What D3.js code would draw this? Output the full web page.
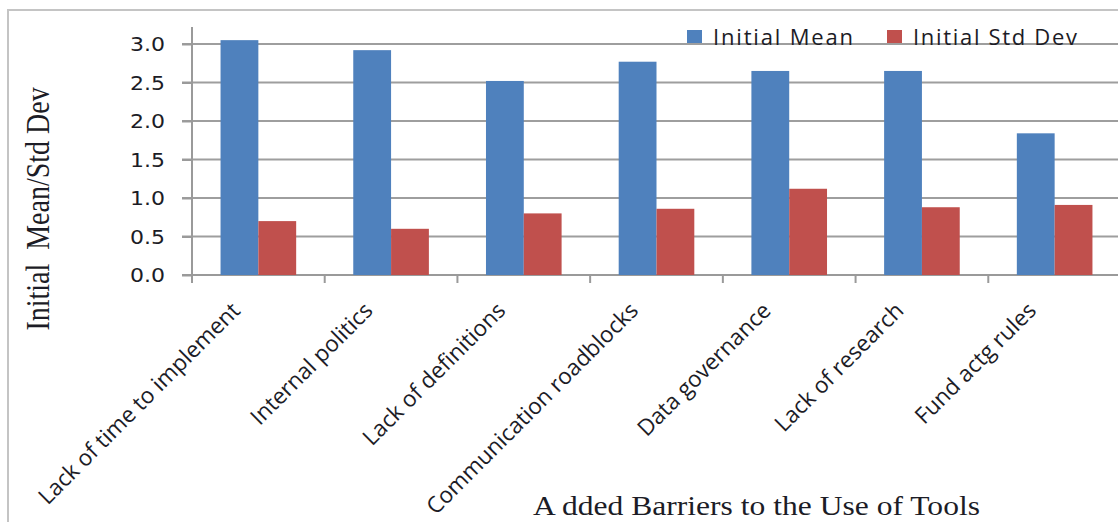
<!DOCTYPE html>
<html><head><meta charset="utf-8">
<script src="https://cdn.jsdelivr.net/npm/d3@7"></script>
<style>body{margin:0;background:#fff}svg{display:block}</style>
</head><body>
<svg id="c" width="1118" height="522"></svg>
<script>
const categories = ["Lack of time to implement","Internal politics","Lack of definitions","Communication roadblocks","Data governance","Lack of research","Fund actg rules"];
const seriesNames = ["Initial Mean","Initial Std Dev"];
const initialMean = [3.05, 2.92, 2.52, 2.77, 2.65, 2.65, 1.84];
const initialStdDev = [0.70, 0.60, 0.80, 0.86, 1.12, 0.88, 0.91];
const yTicks = [0, 0.5, 1.0, 1.5, 2.0, 2.5, 3.0];
const colors = ["#4F81BD", "#C0504D"];
const yTitle = "Initial\u00a0 Mean/Std Dev";
const xTitle = "A dded Barriers to the Use of Tools";

(function () {
const svg = d3.select("#c");
const pLeft = 192, pRight = 1121, pTop = 44, pBottom = 275;
const x = d3.scaleBand().domain(categories).range([pLeft, pRight]).paddingInner(0).paddingOuter(0);
const x1 = d3.scaleBand().domain(seriesNames).range([0, x.bandwidth()]).paddingInner(0).paddingOuter(0.755);
const y = d3.scaleLinear().domain([0, 3]).range([pBottom, pTop]);
const textCol = "#1c1c26";

// frame
svg.append("rect").attr("x", 8).attr("y", 10).attr("width", 1200).attr("height", 600)
  .attr("fill", "none").attr("stroke", "#c4c4c4").attr("stroke-width", 2);

// gridlines
svg.append("g").selectAll("line").data(yTicks.filter(d => d > 0)).join("line")
  .attr("x1", pLeft - 10).attr("x2", 1118).attr("y1", d => y(d)).attr("y2", d => y(d))
  .attr("stroke", "#9e9e9e").attr("stroke-width", 2);

// y axis
const yAxis = svg.append("g").attr("transform", `translate(${pLeft},0)`)
  .call(d3.axisLeft(y).tickValues(yTicks).tickFormat(d3.format(".1f")).tickSize(10).tickPadding(17));
yAxis.select(".domain").remove();
yAxis.selectAll(".tick line").attr("stroke", "#9a9a9a").attr("stroke-width", 2);
yAxis.selectAll(".tick text").attr("font-family", "DejaVu Sans").attr("font-size", 19)
  .attr("fill", textCol).attr("textLength", 35).attr("lengthAdjust", "spacingAndGlyphs").attr("dy", "0.36em");
svg.append("line").attr("x1", pLeft).attr("x2", pLeft).attr("y1", y(3.22)).attr("y2", pBottom + 8)
  .attr("stroke", "#9a9a9a").attr("stroke-width", 2);

// x axis
const xAxis = svg.append("g").attr("transform", `translate(0,${pBottom})`)
  .call(d3.axisBottom(x).tickSize(0).tickFormat(""));
xAxis.select(".domain").remove();
svg.append("line").attr("x1", pLeft - 10).attr("x2", 1118).attr("y1", pBottom).attr("y2", pBottom)
  .attr("stroke", "#9a9a9a").attr("stroke-width", 2);
svg.append("g").selectAll("line").data(categories.slice(1)).join("line")
  .attr("x1", d => x(d)).attr("x2", d => x(d)).attr("y1", pBottom).attr("y2", pBottom + 8)
  .attr("stroke", "#9a9a9a").attr("stroke-width", 2);

// bars
const data = categories.map((c, i) => ({c, vals: [initialMean[i], initialStdDev[i]]}));
const g = svg.append("g").selectAll("g").data(data).join("g").attr("transform", d => `translate(${x(d.c)},0)`);
g.selectAll("rect").data(d => d.vals.map((v, k) => ({v, k}))).join("rect")
  .attr("x", d => x1(seriesNames[d.k])).attr("width", x1.bandwidth())
  .attr("y", d => y(d.v)).attr("height", d => pBottom - y(d.v))
  .attr("fill", d => colors[d.k]);

// category labels
svg.append("g").selectAll("text").data(categories).join("text")
  .attr("transform", d => `translate(${x(d) + x.bandwidth() / 2 - 17},${pBottom + 37}) rotate(-45)`)
  .attr("text-anchor", "end").attr("font-family", "Open Sans").attr("font-size", 22.5)
  .attr("fill", textCol).text(d => d);

// legend
const legX = [687, 887];
const legLen = [140, 164];
const leg = svg.append("g").selectAll("g").data(seriesNames).join("g")
  .attr("transform", (d, i) => `translate(${legX[i]},30)`);
leg.append("rect").attr("width", 15).attr("height", 13).attr("fill", (d, i) => colors[i]);
leg.append("text").attr("x", 26).attr("y", 15).attr("font-family", "Open Sans").attr("font-size", 22)
  .attr("fill", textCol).attr("textLength", (d, i) => legLen[i]).attr("lengthAdjust", "spacing").text(d => d);

// axis titles
svg.append("text").attr("transform", "translate(49,209) scale(1.2,1) rotate(-90)")
  .attr("text-anchor", "middle").attr("font-family", "Liberation Serif").attr("font-size", 28)
  .attr("fill", textCol).text(yTitle);
svg.append("text").attr("x", 533).attr("y", 515).attr("font-family", "Liberation Serif").attr("font-size", 27)
  .attr("fill", textCol).attr("textLength", 447).attr("lengthAdjust", "spacingAndGlyphs").text(xTitle);
})();
</script>
</body></html>
